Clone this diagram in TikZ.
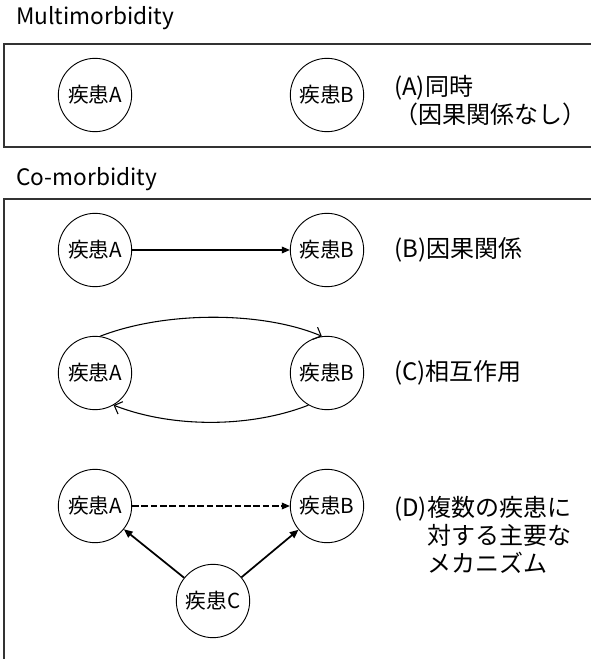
\documentclass[tikz,border=0pt]{standalone}
\usepackage{fontspec}
\setmainfont{Noto Sans CJK JP}
\usetikzlibrary{arrows.meta}
\begin{document}
\begin{tikzpicture}[x=0.75pt,y=-0.75pt,
  dis/.style={circle,draw,line width=0.7pt,minimum size=55pt,inner sep=0pt,font=\fontsize{15.5}{17}\selectfont},
  lbl/.style={anchor=west,inner sep=0pt,align=left,font=\fontsize{18}{21}\selectfont},
  ttl/.style={anchor=west,inner sep=0pt,font=\fontsize{17}{19}\selectfont},
  frame/.style={draw=black!80,line width=1.1pt},
  conn/.style={line width=0.9pt,-{Triangle[length=6pt,width=5pt]}},
  thick conn/.style={line width=1.3pt,-{Triangle[length=6.5pt,width=5.5pt]}},
  barb/.style={line width=0.8pt,-{Straight Barb[length=5pt,width=10pt]}},
]
\clip (0,0) rectangle (591,659);
\useasboundingbox (0,0) rectangle (591,659);
% titles and frames
\node[ttl] (t1) at (16,18) {Multimorbidity};
\draw[frame] (4,44) rectangle (610,147);
\node[ttl] (t2) at (16,179) {Co-morbidity};
\draw[frame] (4,199) rectangle (610,680);
% row A
\node[dis] (a1) at (95,95) {疾患A};
\node[dis] (b1) at (327,95) {疾患B};
\node[lbl] (l1) at (394,101) {(A)同時\\（因果関係なし）};
% row B
\node[dis] (a2) at (95,250) {疾患A};
\node[dis] (b2) at (327,250) {疾患B};
\draw[conn] (a2) -- (b2);
\node[lbl] (l2) at (394,250) {(B)因果関係};
% row C
\node[dis] (a3) at (95,373) {疾患A};
\node[dis] (b3) at (327,373) {疾患B};
\draw[barb] (a3.82) .. controls (165,311) and (262,311) .. (b3.98);
\draw[barb] (b3.-120) .. controls (250,428) and (172,428) .. (a3.-60);
\node[lbl] (l3) at (394,373) {(C)相互作用};
% row D
\node[dis] (a4) at (95,506) {疾患A};
\node[dis] (b4) at (327,506) {疾患B};
\node[dis] (c4) at (213,601) {疾患C};
\draw[conn,dash pattern=on 5pt off 2pt] (a4) -- (b4);
\draw[thick conn] (c4) -- (a4);
\draw[thick conn] (c4) -- (b4);
\node[lbl] (l4) at (394,535) {(D)複数の疾患に\\\hspace*{1.4em}対する主要な\\\hspace*{1.4em}メカニズム};
\end{tikzpicture}
\end{document}
